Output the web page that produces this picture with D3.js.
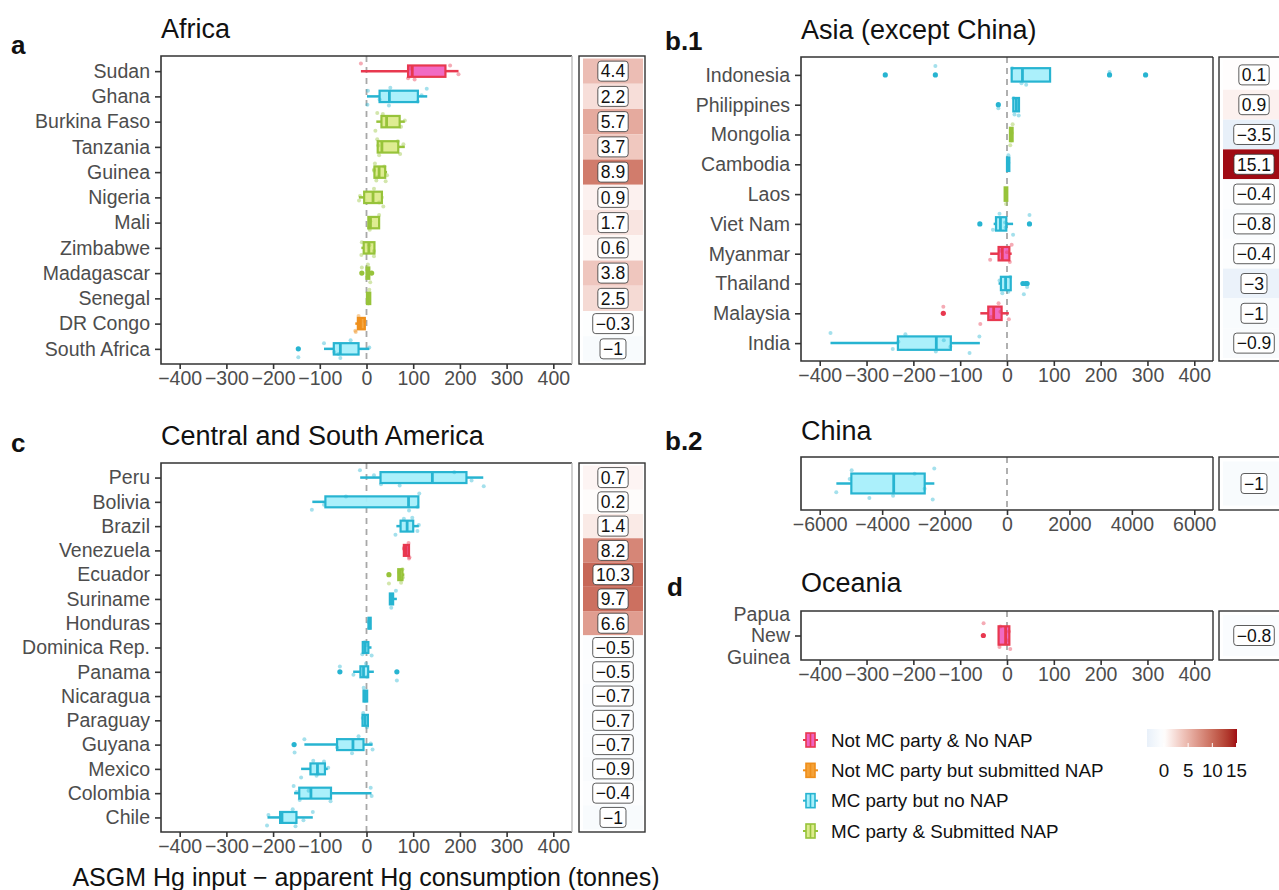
<!DOCTYPE html>
<html>
<head>
<meta charset="utf-8">
<script src="https://cdn.jsdelivr.net/npm/d3@7"></script>
<style>
  body { margin: 0; background: #fff; }
  text { font-family: "Liberation Sans", Arial, sans-serif; }
</style>
</head>
<body>
<svg id="chart" width="1279" height="890"></svg>
<script>
// ---- data ----
// groups: 0 Not MC party & No NAP, 1 Not MC party but submitted NAP, 2 MC party but no NAP, 3 MC party & Submitted NAP
const groupNames = ["Not MC party & No NAP", "Not MC party but submitted NAP", "MC party but no NAP", "MC party & Submitted NAP"];

// stats per country: [lower whisker, q1, median, q3, upper whisker]
const africaCountries = ["Sudan", "Ghana", "Burkina Faso", "Tanzania", "Guinea", "Nigeria", "Mali", "Zimbabwe", "Madagascar", "Senegal", "DR Congo", "South Africa"];
const africaGroups = [0, 2, 3, 3, 3, 3, 3, 3, 3, 3, 1, 2];
const africaStats = [
  [-12, 89, 98, 169, 197], [1, 28, 49, 110, 130], [21, 32, 43, 71, 82], [23, 24, 33, 68, 82],
  [17, 17, 27, 40, 44], [-16, -5, 14, 33, 36], [4, 4, 8.5, 27, 27], [-11, -6, 5, 17, 17],
  [0, 0, 3, 6, 6], [0, 1, 4, 8, 8], [-24, -18.5, -13, -3.6, -3.6], [-91, -70, -56, -17, 6]
];
const africaOutliers = [[], [], [], [], [], [], [], [], [-10, 11], [], [], [-146]];
const africaPoints = [
  [-12, 89, 93, 103, 179, 197], [2, 3, 28, 48, 51, 110, 118, 129], [19, 23, 74, 82, 35], [25, 23, 72, 79, 27, 67],
  [16, 21, 38, 44, 41, 18, 23, 16], [-16, 36, 16, 27, -14], [5, 8, 27, 7], [-11, 6, 16, -10, 16],
  [-10, 3, 8, 3], [6, 4], [-17, -24, -4, -23], [-146, -91, -69, -56, -34, -60, 6]
];
const africaHeat = [4.4, 2.2, 5.7, 3.7, 8.9, 0.9, 1.7, 0.6, 3.8, 2.5, -0.3, -1];

const asiaCountries = ["Indonesia", "Philippines", "Mongolia", "Cambodia", "Laos", "Viet Nam", "Myanmar", "Thailand", "Malaysia", "India"];
const asiaGroups = [2, 2, 3, 2, 3, 2, 0, 2, 0, 2];
const asiaStats = [
  [10, 10, 33, 92, 92], [13.5, 13.5, 20, 25.6, 25.6], [6.3, 6.3, 9, 12, 12], [0, 0, 3, 5, 5],
  [-5, -5, -2, 0.6, 0.6], [-28.5, -23.5, -14, -1.5, 13], [-36, -18, -10, 5, 10], [-18, -13, -3, 8, 8],
  [-57, -40, -28.5, -11.5, 4], [-377, -233, -151, -120, -58]
];
const asiaOutliers = [[-260, -153, 219, 296], [-18.5], [], [], [], [-58, 48], [], [34, 40, 43], [-136], []];
const asiaPoints = [
  [-153, 31, 219, 41, 11], [16, 14, -18.5, 25], [7, 12, 9, 10], [3, 3],
  [-2, -2], [-3, 13, -16, -30, -4, 48], [-36, 0, 10, 6, -14], [3, -16, -10, 7, 43, 36],
  [-136, -34, -57, -18, 4, -14], [-377, -244, -232, -217, -152, -135, -80, -59, -121]
];
const asiaHeat = [0.1, 0.9, -3.5, 15.1, -0.4, -0.8, -0.4, -3, -1, -0.9];

const csaCountries = ["Peru", "Bolivia", "Brazil", "Venezuela", "Ecuador", "Suriname", "Honduras", "Dominica Rep.", "Panama", "Nicaragua", "Paraguay", "Guyana", "Mexico", "Colombia", "Chile"];
const csaGroups = [2, 2, 2, 0, 3, 2, 2, 2, 2, 2, 2, 2, 2, 2, 2];
const csaStats = [
  [-13.5, 30, 141, 214, 250], [-116, -88, 90, 111, 112.5], [64, 73, 87, 100, 112], [80, 80, 85, 91, 91],
  [68, 68, 72, 77, 81], [50, 50, 53, 57, 65], [4.3, 4.3, 6, 9, 9], [-8, -8, -3, 4, 10.7],
  [-28.5, -13, -6.4, 3.6, 15.7], [-6.4, -6.4, -3, 1.4, 1.4], [-8.5, -8.5, -3, 3, 3], [-133, -63, -29, -6.4, 13],
  [-140, -120, -105, -89, -83], [-155, -144, -119, -76, 10.7], [-212, -185, -181, -150, -115]
];
const csaOutliers = [[], [], [], [], [48], [], [], [], [-57, 65], [], [], [-155], [], [], []];
const csaPoints = [
  [-14, 31, 16, 71, 188, 225, 251], [-117, -44, -91, 91, 113, 109], [62, 98, 109, 112, 80], [81, 90, 92, 80, 91],
  [70, 74, 77, 78, 48], [53, 53, 63], [6, 4], [-9, 1, 11, -4],
  [-57, -28, 65, -1, 1], [-6, -3], [-7, 1, -8], [-154, -133, -63, -31, -17, 13, 9],
  [-140, -114, -104, -82, -91, -107], [-150, -156, -143, -124, -77, 9, 11], [-210, -213, -115, -135, -152, -158]
];
const csaHeat = [0.7, 0.2, 1.4, 8.2, 10.3, 9.7, 6.6, -0.5, -0.5, -0.7, -0.7, -0.7, -0.9, -0.4, -1];

const chinaCountries = ["China"];
const chinaGroups = [2];
const chinaStats = [[-5467, -4987, -3630, -2637, -2328]];
const chinaOutliers = [[]];
const chinaPoints = [[-4977, -3650, -5040, -4410, -2960, -2640, -2380, -2330, -5470]];
const chinaHeat = [-1];

const oceaniaCountries = ["Papua\nNew\nGuinea"];
const oceaniaGroups = [0];
const oceaniaStats = [[-18, -18, -3, 5, 5]];
const oceaniaOutliers = [[-50.5]];
const oceaniaPoints = [[-50, -16, 4, 7, -14, 1]];
const oceaniaHeat = [-0.8];

const ticksSmall = [-400, -300, -200, -100, 0, 100, 200, 300, 400];
const ticksChina = [-6000, -4000, -2000, 0, 2000, 4000, 6000];
const barTicks = [0, 5, 10, 15];

// ---- styles ----
const strokeCol = ["#e8384f", "#ef8f1b", "#27b4d1", "#97c33a"];
const fillCol = ["#f062c0", "#f5a238", "#a7effb", "#dceb8c"];
const JIT = [-0.3, 0.28, -0.1, 0.33, -0.22, 0.12, 0.36, -0.34, 0.2, -0.05];
const FS = 19.5;

const heatColor = d3.scaleLinear()
  .domain([-3.5, 0, 15.1])
  .range(["#e8f0f9", "#ffffff", "#a00b14"])
  .interpolate(d3.interpolateLab);

const svg = d3.select("#chart");
const fmt = v => String(v).replace("-", "\u2212");

function drawPanel(p) {
  const g = svg.append("g");
  const x = d3.scaleLinear().domain(p.domain).range([p.x0, p.x1]);
  const y = d3.scalePoint().domain(p.countries).range([p.y0, p.y1]).padding(0.6);
  const step = y.step();
  const bh = step * 0.45;

  g.append("rect").attr("x", p.x0).attr("y", p.y0)
    .attr("width", p.x1 - p.x0).attr("height", p.y1 - p.y0).attr("fill", "#fff");

  // zero line
  g.append("line")
    .attr("x1", x(0)).attr("x2", x(0)).attr("y1", p.y0).attr("y2", p.y1)
    .attr("stroke", "#a8a8a8").attr("stroke-width", 1.8).attr("stroke-dasharray", "6,5");

  const rows = p.countries.map((c, i) => ({
    c: c, grp: p.groups[i], s: p.stats[i], out: p.outliers[i], pts: p.points[i], heat: p.heat[i], i: i
  }));

  const box = g.selectAll("g.box").data(rows).join("g").attr("class", "box");
  // whiskers
  box.append("line")
    .attr("x1", d => x(d.s[0])).attr("x2", d => x(d.s[1]))
    .attr("y1", d => y(d.c)).attr("y2", d => y(d.c))
    .attr("stroke", d => strokeCol[d.grp]).attr("stroke-width", 2.5);
  box.append("line")
    .attr("x1", d => x(d.s[3])).attr("x2", d => x(d.s[4]))
    .attr("y1", d => y(d.c)).attr("y2", d => y(d.c))
    .attr("stroke", d => strokeCol[d.grp]).attr("stroke-width", 2.5);
  box.append("rect")
    .attr("x", d => x(d.s[1])).attr("width", d => Math.max(1, x(d.s[3]) - x(d.s[1])))
    .attr("y", d => y(d.c) - bh / 2).attr("height", bh)
    .attr("fill", d => fillCol[d.grp]).attr("fill-opacity", 0.95)
    .attr("stroke", d => strokeCol[d.grp]).attr("stroke-width", 2.2);
  box.append("line")
    .attr("x1", d => x(d.s[2])).attr("x2", d => x(d.s[2]))
    .attr("y1", d => y(d.c) - bh / 2).attr("y2", d => y(d.c) + bh / 2)
    .attr("stroke", d => strokeCol[d.grp]).attr("stroke-width", 2.8);

  // outliers
  box.selectAll("circle.out").data(d => d.out.map(v => ({ v: v, d: d }))).join("circle")
    .attr("class", "out")
    .attr("cx", o => x(o.v)).attr("cy", o => y(o.d.c)).attr("r", 2.6)
    .attr("fill", o => strokeCol[o.d.grp]);

  // jittered raw points
  box.selectAll("circle.pt").data(d => d.pts.map((v, k) => ({ v: v, k: k, d: d }))).join("circle")
    .attr("class", "pt")
    .attr("cx", o => x(o.v))
    .attr("cy", o => y(o.d.c) + JIT[(o.k + o.d.i * 3) % JIT.length] * step)
    .attr("r", 2)
    .attr("fill", o => strokeCol[o.d.grp]).attr("fill-opacity", 0.42);

  // panel border
  g.append("path")
    .attr("d", `M${p.x1},${p.y0}H${p.x0}V${p.y1}H${p.x1}`)
    .attr("fill", "none").attr("stroke", "#333").attr("stroke-width", 1.6);
  g.append("line").attr("x1", p.x1).attr("x2", p.x1).attr("y1", p.y0).attr("y2", p.y1)
    .attr("stroke", p.rightCol).attr("stroke-width", 1.4);

  // axes
  const xa = g.append("g").attr("transform", `translate(0,${p.y1})`)
    .call(d3.axisBottom(x).tickValues(p.ticks).tickSize(5).tickPadding(2).tickFormat(d3.format("d")));
  xa.select(".domain").remove();
  xa.selectAll("line").attr("stroke", "#333").attr("stroke-width", 1.6);
  xa.selectAll("text").attr("fill", "#4d4d4d").attr("font-size", FS).attr("font-family", "Liberation Sans, Arial, sans-serif");

  if (p.yaxis !== false) {
    const ya = g.append("g").attr("transform", `translate(${p.x0},0)`)
      .call(d3.axisLeft(y).tickSize(6).tickPadding(4).tickFormat(""));
    ya.select(".domain").remove();
    ya.selectAll("line").attr("stroke", "#333").attr("stroke-width", 1.6);

    const lab = g.append("g").selectAll("text").data(rows).join("text")
      .attr("x", p.x0 - 11).attr("text-anchor", "end")
      .attr("fill", "#4d4d4d").attr("font-size", FS);
    lab.each(function (d) {
      const lines = d.c.split("\n");
      const t = d3.select(this);
      lines.forEach((ln, j) => {
        t.append("tspan").attr("x", p.x0 - 11)
          .attr("y", y(d.c) + (j - (lines.length - 1) / 2) * 21.5)
          .attr("dy", "0.35em").text(ln);
      });
    });
  }

  // heat column
  const hc = g.append("g");
  hc.selectAll("rect").data(rows).join("rect")
    .attr("x", p.hx0 + 4).attr("width", p.hx1 - p.hx0 - 6)
    .attr("y", d => y(d.c) - step / 2).attr("height", step)
    .attr("fill", d => heatColor(d.heat));
  hc.append("rect").attr("x", p.hx0).attr("y", p.y0)
    .attr("width", p.hx1 - p.hx0).attr("height", p.y1 - p.y0)
    .attr("fill", "none").attr("stroke", "#333").attr("stroke-width", 1.4);
  const cx = (p.hx0 + p.hx1) / 2 + 1;
  const lbl = hc.selectAll("g.lbl").data(rows).join("g").attr("class", "lbl");
  lbl.append("text")
    .attr("x", cx).attr("y", d => y(d.c)).attr("dy", "0.36em")
    .attr("text-anchor", "middle").attr("font-size", 17.5).attr("fill", "#111")
    .text(d => fmt(d.heat));
  lbl.each(function () {
    const t = d3.select(this).select("text");
    const w = t.node().getComputedTextLength();
    const yy = +t.attr("y");
    d3.select(this).insert("rect", "text")
      .attr("x", cx - w / 2 - 3).attr("y", yy - 10)
      .attr("width", w + 6).attr("height", 20).attr("rx", 3)
      .attr("fill", "#fff").attr("stroke", "#333").attr("stroke-width", 0.8);
  });

  // title and letter
  svg.append("text").attr("x", p.x0).attr("y", p.titleY)
    .attr("font-size", 27).attr("fill", "#111").text(p.title);
  svg.append("text").attr("x", p.letterX).attr("y", p.letterY)
    .attr("font-size", 26).attr("font-weight", "bold").attr("fill", "#111").text(p.letter);
}

drawPanel({
  countries: africaCountries, groups: africaGroups, stats: africaStats, outliers: africaOutliers,
  points: africaPoints, heat: africaHeat, domain: [-440, 440], ticks: ticksSmall,
  x0: 161, x1: 572, y0: 56, y1: 364, hx0: 579, hx1: 645, rightCol: "#bdbdbd",
  title: "Africa", titleY: 38, letter: "a", letterX: 11, letterY: 54
});
drawPanel({
  countries: csaCountries, groups: csaGroups, stats: csaStats, outliers: csaOutliers,
  points: csaPoints, heat: csaHeat, domain: [-440, 440], ticks: ticksSmall,
  x0: 161, x1: 572, y0: 463, y1: 832, hx0: 579, hx1: 645, rightCol: "#bdbdbd",
  title: "Central and South America", titleY: 445, letter: "c", letterX: 11, letterY: 452
});
drawPanel({
  countries: asiaCountries, groups: asiaGroups, stats: asiaStats, outliers: asiaOutliers,
  points: asiaPoints, heat: asiaHeat, domain: [-440, 440], ticks: ticksSmall,
  x0: 801, x1: 1213, y0: 57, y1: 361, hx0: 1219, hx1: 1287, rightCol: "#333",
  title: "Asia (except China)", titleY: 39, letter: "b.1", letterX: 665, letterY: 50
});
drawPanel({
  countries: chinaCountries, groups: chinaGroups, stats: chinaStats, outliers: chinaOutliers,
  points: chinaPoints, heat: chinaHeat, domain: [-6600, 6600], ticks: ticksChina, yaxis: false,
  x0: 801, x1: 1213, y0: 457, y1: 510, hx0: 1219, hx1: 1287, rightCol: "#333",
  title: "China", titleY: 440, letter: "b.2", letterX: 665, letterY: 450
});
drawPanel({
  countries: oceaniaCountries, groups: oceaniaGroups, stats: oceaniaStats, outliers: oceaniaOutliers,
  points: oceaniaPoints, heat: oceaniaHeat, domain: [-440, 440], ticks: ticksSmall,
  x0: 801, x1: 1213, y0: 611, y1: 660, hx0: 1219, hx1: 1287, rightCol: "#333",
  title: "Oceania", titleY: 592, letter: "d", letterX: 667, letterY: 596
});

// x-axis title
svg.append("text").attr("x", 366).attr("y", 886).attr("text-anchor", "middle")
  .attr("font-size", 25).attr("fill", "#111")
  .text("ASGM Hg input \u2212 apparent Hg consumption (tonnes)");

// legend
const lg = svg.append("g");
const legY = d3.scalePoint().domain(groupNames).range([740, 831]);
const key = lg.selectAll("g").data(groupNames).join("g")
  .attr("transform", d => `translate(810,${legY(d)})`);
key.append("line").attr("x1", -7).attr("x2", 8).attr("y1", 0).attr("y2", 0)
  .attr("stroke", (d, i) => strokeCol[i]).attr("stroke-width", 2);
key.append("rect").attr("x", -4).attr("y", -7).attr("width", 9).attr("height", 14)
  .attr("fill", (d, i) => fillCol[i]).attr("stroke", (d, i) => strokeCol[i]).attr("stroke-width", 1.6);
key.append("line").attr("x1", 0.5).attr("x2", 0.5).attr("y1", -7).attr("y2", 7)
  .attr("stroke", (d, i) => strokeCol[i]).attr("stroke-width", 1.6);
key.append("text").attr("x", 21).attr("dy", "0.36em").attr("font-size", 18.8).attr("fill", "#111").text(d => d);

// colour bar
const barX = d3.scaleLinear().domain([-3.5, 15.1]).range([1147, 1237]);
const grad = svg.append("defs").append("linearGradient").attr("id", "heatgrad");
d3.range(0, 1.0001, 0.05).forEach(t => {
  grad.append("stop").attr("offset", t).attr("stop-color", heatColor(barX.invert(1147 + t * 90)));
});
svg.append("rect").attr("x", 1147).attr("y", 729).attr("width", 90).attr("height", 18).attr("fill", "url(#heatgrad)");
const bt = svg.append("g").selectAll("g").data(barTicks).join("g");
bt.append("line").attr("x1", d => barX(d)).attr("x2", d => barX(d)).attr("y1", 743).attr("y2", 747)
  .attr("stroke", "#fff").attr("stroke-width", 1);
bt.append("text").attr("x", d => barX(d)).attr("y", 777).attr("text-anchor", "middle")
  .attr("font-size", 18.8).attr("fill", "#111").text(d => d);
</script>
</body>
</html>
